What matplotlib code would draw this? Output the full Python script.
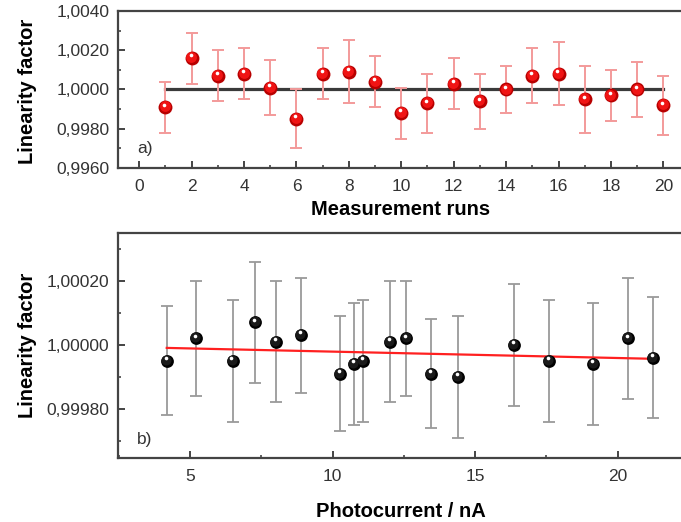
import numpy as np
import matplotlib
matplotlib.use("Agg")
import matplotlib.pyplot as plt
from matplotlib import transforms
from matplotlib.ticker import MultipleLocator, FuncFormatter

plt.rcParams['font.family'] = ['Liberation Sans', 'DejaVu Sans']

# painel a) - linearidade por medição
runs = [1, 2, 3, 4, 5, 6, 7, 8, 9, 10, 11, 12, 13, 14, 15, 16, 17, 18, 19, 20]
lin_a = [0.99909, 1.0016, 1.0007, 1.0008, 1.0001, 0.9985, 1.0008, 1.0009, 1.0004, 0.9988,
         0.9993, 1.0003, 0.9994, 1.0000, 1.0007, 1.0008, 0.9995, 0.9997, 1.0000, 0.9992]
err_a = [0.0013, 0.0013, 0.0013, 0.0013, 0.0014, 0.0015, 0.0013, 0.0016, 0.0013, 0.0013,
         0.0015, 0.0013, 0.0014, 0.0012, 0.0014, 0.0016, 0.0017, 0.0013, 0.0014, 0.0015]
ref_x = [1, 20]
ref_y = [1.0, 1.0]

# painel b) - linearidade vs fotocorrente
corrente = [4.18, 5.2, 6.49, 7.28, 8.0, 8.88, 10.25, 10.75, 11.06, 12.0, 12.58, 13.45, 14.39,
            16.35, 17.58, 19.14, 20.36, 21.23]
lin_b = [0.99995, 1.00002, 0.99995, 1.00007, 1.00001, 1.00003, 0.99991, 0.99994, 0.99995,
         1.00001, 1.00002, 0.99991, 0.99990, 1.00000, 0.99995, 0.99994, 1.00002, 0.99996]
err_b = [0.00017, 0.00018, 0.00019, 0.00019, 0.00019, 0.00018, 0.00018, 0.00019, 0.00019,
         0.00019, 0.00018, 0.00017, 0.00019, 0.00019, 0.00019, 0.00019, 0.00019, 0.00019]
fit_x = [4.18, 21.23]
fit_y = [0.99999, 0.999956]

fig = plt.figure(figsize=(6.81, 5.22), dpi=100)
ax1 = fig.add_axes([0.1733, 0.6782, 0.83, 0.3008])
ax2 = fig.add_axes([0.1733, 0.122, 0.83, 0.4322])

cor_eixo = '#444444'


def estilo(ax):
    for lado in ['left', 'bottom', 'top']:
        ax.spines[lado].set_color(cor_eixo)
        ax.spines[lado].set_linewidth(1.6)
    ax.spines['right'].set_visible(False)
    ax.tick_params(which='both', direction='in', colors=cor_eixo, labelcolor='#333333',
                   labelsize=12.5, top=False, right=False)
    ax.tick_params(which='major', length=5, width=1.4)
    ax.tick_params(which='minor', length=2.5, width=1.2)
    ax.tick_params(axis='x', pad=8)
    ax.tick_params(axis='y', pad=6)


def esfera(ax, x, y, cor, sombra, tam):
    # esfera "3D": fundo escuro, miolo mais claro e brilho branco
    ax.plot(x, y, 'o', color=sombra, markeredgewidth=0, markersize=tam, zorder=4)
    off1 = transforms.offset_copy(ax.transData, fig=fig, x=-0.4, y=0.6, units='points')
    ax.plot(x, y, 'o', color=cor, markeredgewidth=0, markersize=tam * 0.78,
            transform=off1, zorder=4.5)
    off2 = transforms.offset_copy(ax.transData, fig=fig, x=-0.8, y=1.9, units='points')
    ax.plot(x, y, 'o', color='white', markersize=2.6, markeredgewidth=0,
            transform=off2, zorder=5)


# ---- a)
ax1.plot(ref_x, ref_y, color='#3a3a3a', linewidth=2.3, zorder=2)
ax1.errorbar(runs, lin_a, yerr=err_a, fmt='none', ecolor='#f39a9a', elinewidth=1.4,
             capsize=4.5, capthick=1.4, zorder=3)
esfera(ax1, runs, lin_a, '#f01414', '#b80000', 10.0)
ax1.set_xlim(-0.81, 20.76)
ax1.set_ylim(0.996, 1.004)
ax1.xaxis.set_major_locator(MultipleLocator(2))
ax1.xaxis.set_minor_locator(MultipleLocator(1))
ax1.yaxis.set_major_locator(MultipleLocator(0.002))
ax1.yaxis.set_minor_locator(MultipleLocator(0.001))
ax1.yaxis.set_major_formatter(FuncFormatter(lambda v, p: f"{v:.4f}".replace('.', ',')))
estilo(ax1)
ax1.set_xlabel('Measurement runs', fontsize=14.5, fontweight='bold', labelpad=4)
ax1.set_ylabel('Linearity factor', fontsize=14.5, fontweight='bold')
ax1.yaxis.set_label_coords(-0.143, 0.49)
ax1.text(0.034, 0.124, 'a)', transform=ax1.transAxes, fontsize=12.5, color='#333333',
         va='center', ha='left')

# ---- b)
ax2.errorbar(corrente, lin_b, yerr=err_b, fmt='none', ecolor='#9a9a9a', elinewidth=1.3,
             capsize=4.5, capthick=1.3, zorder=3)
ax2.plot(fit_x, fit_y, color='#ff2020', linewidth=1.6, zorder=3.5)
esfera(ax2, corrente, lin_b, '#1a1a1a', '#000000', 9.2)
ax2.set_xlim(2.47, 22.3)
ax2.set_ylim(0.999645, 1.00035)
ax2.xaxis.set_major_locator(MultipleLocator(5))
ax2.xaxis.set_minor_locator(MultipleLocator(2.5))
ax2.yaxis.set_major_locator(MultipleLocator(0.0002))
ax2.yaxis.set_minor_locator(MultipleLocator(0.0001))
ax2.yaxis.set_major_formatter(FuncFormatter(lambda v, p: f"{v:.5f}".replace('.', ',')))
estilo(ax2)
ax2.set_xlabel('Photocurrent / nA', fontsize=14.5, fontweight='bold', labelpad=13)
ax2.set_ylabel('Linearity factor', fontsize=14.5, fontweight='bold')
ax2.yaxis.set_label_coords(-0.143, 0.5)
ax2.text(0.034, 0.0855, 'b)', transform=ax2.transAxes, fontsize=12.5, color='#333333',
         va='center', ha='left')

fig.savefig('out.png', dpi=100)
